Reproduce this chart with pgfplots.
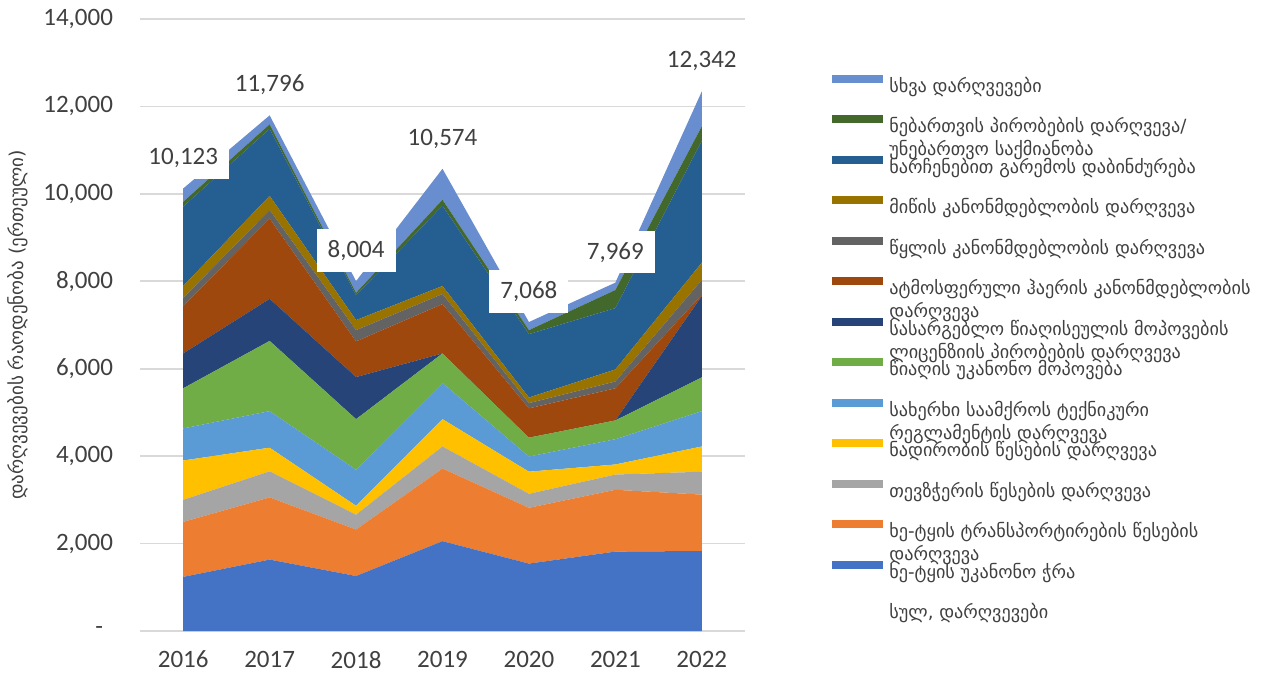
\documentclass[border=0pt]{standalone}
\usepackage{pgfplots}
\pgfplotsset{compat=1.18}
\usepackage{pgfplotstable}
\usepackage{fontspec}
\setmainfont{Carlito}
\newfontfamily\geo{DejaVu Sans}

\definecolor{cA}{HTML}{4472C4}
\definecolor{cB}{HTML}{ED7D31}
\definecolor{cC}{HTML}{A5A5A5}
\definecolor{cD}{HTML}{FFC000}
\definecolor{cE}{HTML}{5B9BD5}
\definecolor{cF}{HTML}{70AD47}
\definecolor{cG}{HTML}{264478}
\definecolor{cH}{HTML}{9E480E}
\definecolor{cI}{HTML}{636363}
\definecolor{cJ}{HTML}{997300}
\definecolor{cK}{HTML}{255E91}
\definecolor{cL}{HTML}{43682B}
\definecolor{cM}{HTML}{698ED0}
\definecolor{gridgray}{HTML}{D9D9D9}
\definecolor{txt}{HTML}{404040}

% values per category (stacked bottom to top)
\pgfplotstableread{
year s1   s2   s3  s4  s5  s6   s7   s8   s9  s10 s11  s12 s13
2016 1238 1258 505 899 734 918  798  1083 184 275 1817 110 304
2017 1634 1422 597 540 836 1606 964  1835 200 322 1533 101 206
2018 1258 1063 340 203 825 1157 963  817  257 229 569  55  268
2019 2055 1661 505 625 826 678  0    1129 230 183 1836 137 709
2020 1542 1276 320 506 347 432  0    670  120 128 1450 92  185
2021 1817 1413 349 230 578 430  0    735  156 275 1404 413 169
2022 1830 1290 524 577 808 771  1862 30   337 396 2789 331 797
}\data

\pgfplotstableread{
year total label
2016 10123 10,123
2017 11796 11,796
2018 8004  8,004
2019 10574 10,574
2020 7068  7,068
2021 7969  7,969
2022 12342 12,342
}\totals

\newcommand{\two}[2]{\begin{tabular}[t]{@{}l@{}}#1\\[0.5pt]#2\end{tabular}}

\begin{document}
\begin{tikzpicture}
\path[use as bounding box] (0,0) rectangle (630.5pt,337.5pt);
\begin{axis}[
  at={(70pt,22pt)}, anchor=south west,
  scale only axis, width=302.5pt, height=306pt,
  xmin=2015.5, xmax=2022.5, ymin=0, ymax=14000,
  scaled ticks=false,
  stack plots=y,
  xtick={2016,2017,2018,2019,2020,2021,2022},
  xticklabels={2016,2017,2018,2019,2020,2021,2022},
  ytick={0,2000,4000,6000,8000,10000,12000,14000},
  yticklabels={{-\hspace*{5pt}},{2,000},{4,000},{6,000},{8,000},{10,000},{12,000},{14,000}},
  ymajorgrids, major grid style={draw=gridgray, line width=0.8pt},
  axis line style={draw=none}, tick style={draw=none},
  tick label style={font=\fontsize{12.5}{15}\selectfont, text=txt},
  yticklabel style={xshift=-10pt},
  xticklabel style={yshift=-6.5pt},
  ylabel={\geo\fontsize{9.5}{11}\selectfont დარღვევების რაოდენობა (ერთეული)},
  ylabel style={at={(axis description cs:-0.2017,0.5)}, anchor=center, text=txt},
  legend cell align=left,
  reverse legend,
  legend image code/.code={\fill[#1] (0pt,1.6pt) rectangle (25.5pt,5.6pt);},
  legend style={at={(axis description cs:1.1438,0.9245)}, anchor=north west,
    draw=none, fill=none, inner sep=0pt, row sep=0pt, column sep=3pt,
    font=\geo\fontsize{9.1}{11}\selectfont, text=txt,
    nodes={inner sep=0pt, text height=13.4pt, text depth=6.85pt}},
]
\addlegendimage{empty legend}
\addlegendentry{სულ, დარღვევები}
\addplot[fill=cA, draw=none] table[x=year,y=s1]{\data} \closedcycle;
\addlegendentry{ხე-ტყის უკანონო ჭრა}
\addplot[fill=cB, draw=none] table[x=year,y=s2]{\data} \closedcycle;
\addlegendentry{\two{ხე-ტყის ტრანსპორტირების წესების}{დარღვევა}}
\addplot[fill=cC, draw=none] table[x=year,y=s3]{\data} \closedcycle;
\addlegendentry{თევზჭერის წესების დარღვევა}
\addplot[fill=cD, draw=none] table[x=year,y=s4]{\data} \closedcycle;
\addlegendentry{ნადირობის წესების დარღვევა}
\addplot[fill=cE, draw=none] table[x=year,y=s5]{\data} \closedcycle;
\addlegendentry{\two{სახერხი საამქროს ტექნიკური}{რეგლამენტის დარღვევა}}
\addplot[fill=cF, draw=none] table[x=year,y=s6]{\data} \closedcycle;
\addlegendentry{წიაღის უკანონო მოპოვება}
\addplot[fill=cG, draw=none] table[x=year,y=s7]{\data} \closedcycle;
\addlegendentry{\two{სასარგებლო წიაღისეულის მოპოვების}{ლიცენზიის პირობების დარღვევა}}
\addplot[fill=cH, draw=none] table[x=year,y=s8]{\data} \closedcycle;
\addlegendentry{\two{ატმოსფერული ჰაერის კანონმდებლობის}{დარღვევა}}
\addplot[fill=cI, draw=none] table[x=year,y=s9]{\data} \closedcycle;
\addlegendentry{წყლის კანონმდებლობის დარღვევა}
\addplot[fill=cJ, draw=none] table[x=year,y=s10]{\data} \closedcycle;
\addlegendentry{მიწის კანონმდებლობის დარღვევა}
\addplot[fill=cK, draw=none] table[x=year,y=s11]{\data} \closedcycle;
\addlegendentry{ნარჩენებით გარემოს დაბინძურება}
\addplot[fill=cL, draw=none] table[x=year,y=s12]{\data} \closedcycle;
\addlegendentry{\two{ნებართვის პირობების დარღვევა/}{უნებართვო საქმიანობა}}
\addplot[fill=cM, draw=none] table[x=year,y=s13]{\data} \closedcycle;
\addlegendentry{სხვა დარღვევები}
\end{axis}
\begin{axis}[
  at={(70pt,22pt)}, anchor=south west,
  scale only axis, width=302.5pt, height=306pt,
  xmin=2015.5, xmax=2022.5, ymin=0, ymax=14000,
  hide axis, clip=false,
]
\addplot[draw=none, mark=none, point meta=explicit symbolic,
  nodes near coords={\pgfplotspointmeta},
  every node near coord/.style={anchor=south, yshift=4.5pt, fill=white, inner sep=5.5pt,
    font=\fontsize{12.5}{15}\selectfont, text=txt}]
  table[x=year,y=total,meta=label]{\totals};
\end{axis}
\end{tikzpicture}
\end{document}
